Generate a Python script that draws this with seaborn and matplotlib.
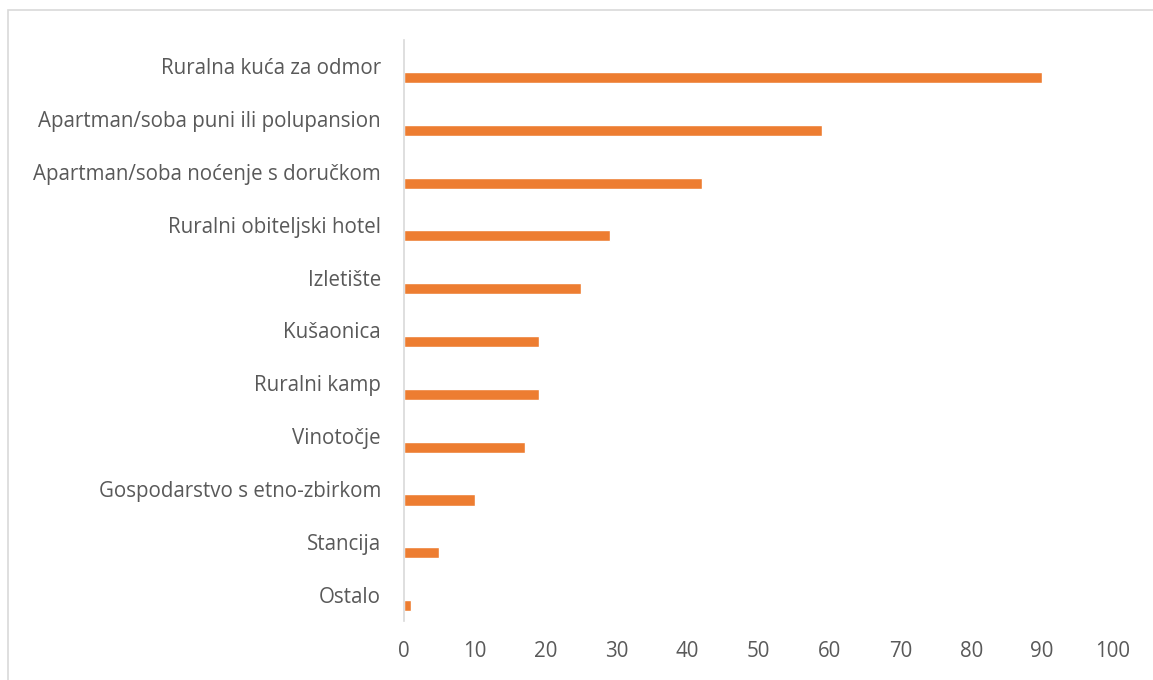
import pandas as pd
import matplotlib.pyplot as plt
import matplotlib.patches as mpatches
import seaborn as sns

# data
categories = [
    "Ruralna kuća za odmor",
    "Apartman/soba puni ili polupansion",
    "Apartman/soba noćenje s doručkom",
    "Ruralni obiteljski hotel",
    "Izletište",
    "Kušaonica",
    "Ruralni kamp",
    "Vinotočje",
    "Gospodarstvo s etno-zbirkom",
    "Stancija",
    "Ostalo",
]
values = [90, 59, 42, 29, 25, 19, 19, 17, 10, 5, 1]
x_ticks = [0, 10, 20, 30, 40, 50, 60, 70, 80, 90, 100]

df = pd.DataFrame({"kategorija": categories, "broj": values})

sns.set_style("white")
plt.rcParams["font.family"] = ["Open Sans", "DejaVu Sans"]

text_color = "#595959"
bar_color = "#ED7D31"
line_color = "#D9D9D9"

fig = plt.figure(figsize=(11.53, 6.8), dpi=100)
ax = fig.add_axes([0.3504, 0.0868, 0.6149, 0.8544])

sns.barplot(
    data=df,
    y="kategorija",
    x="broj",
    orient="h",
    color=bar_color,
    width=0.21,
    saturation=1,
    ax=ax,
)

# excel-style offset: bars sit below the category label
for p in ax.patches:
    p.set_y(p.get_y() + 0.21)

ax.set_xlim(0, 100)
ax.set_ylim(len(categories) - 0.5, -0.5)
ax.set_xticks(x_ticks)
ax.set_xlabel("")
ax.set_ylabel("")

ax.tick_params(axis="both", length=0, colors=text_color, labelsize=14.8)
ax.tick_params(axis="y", pad=16.5)
ax.tick_params(axis="x", pad=14.5)

for side in ["top", "right", "bottom"]:
    ax.spines[side].set_visible(False)
ax.spines["left"].set_color(line_color)
ax.spines["left"].set_linewidth(1.2)

# chart border (only top/left visible in the crop)
border = mpatches.Rectangle(
    (8 / 1153, -0.1), 1.2, 1.1 - 10 / 680,
    transform=fig.transFigure, fill=False,
    edgecolor=line_color, linewidth=1.2,
)
fig.patches.append(border)

plt.savefig("out.png", dpi=100)
